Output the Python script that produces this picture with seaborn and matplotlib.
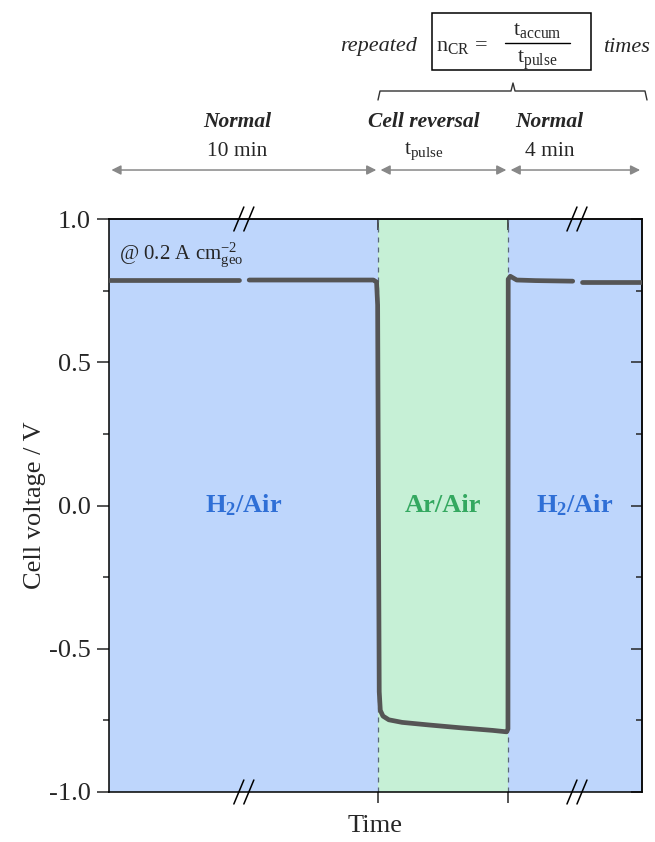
import pandas as pd
import matplotlib
matplotlib.use("Agg")
import matplotlib.pyplot as plt
import seaborn as sns
from matplotlib.lines import Line2D
from matplotlib.patches import Rectangle
from matplotlib.ticker import MultipleLocator, NullFormatter

# time axis in arbitrary units (0-100), voltage in V
t_normal1 = [0, 24.4]
v_normal1 = [0.787, 0.787]
t_cycle = [26.3, 49.6, 50.2, 50.4, 50.55, 50.7, 50.9, 51.4, 52.5, 55.0, 60.0, 66.0, 72.0, 74.6,
           74.85, 74.9, 75.3, 76.5, 80.0, 87.0]
v_cycle = [0.787, 0.787, 0.78, 0.70, 0.0, -0.65, -0.715, -0.735, -0.748, -0.757, -0.766, -0.776, -0.785, -0.79,
           -0.78, 0.79, 0.80, 0.787, 0.785, 0.783]
t_normal2 = [88.7, 100]
v_normal2 = [0.78, 0.78]

boundaries = [0, 50.5, 74.9, 100]
breaks = [25.3, 87.8]
gases = ["H$_\\mathregular{2}$/Air", "Ar/Air", "H$_\\mathregular{2}$/Air"]
phase_names = ["Normal", "Cell reversal", "Normal"]
phase_times = ["10 min", "t$_\\mathregular{pulse}$", "4 min"]
phase_label_x = [24.0, 59.1, 82.6]

df = pd.concat([
    pd.DataFrame({"t": t_normal1, "v": v_normal1, "seg": 0}),
    pd.DataFrame({"t": t_cycle, "v": v_cycle, "seg": 1}),
    pd.DataFrame({"t": t_normal2, "v": v_normal2, "seg": 2}),
])

sns.set_theme(style="ticks")
plt.rcParams["font.family"] = ["Liberation Serif", "DejaVu Serif"]
plt.rcParams["mathtext.fontset"] = "custom"
plt.rcParams["mathtext.rm"] = "Liberation Serif"
plt.rcParams["mathtext.it"] = "Liberation Serif:italic"
plt.rcParams["mathtext.bf"] = "Liberation Serif:bold"
plt.rcParams["axes.unicode_minus"] = False

W, H = 655, 842
fig = plt.figure(figsize=(W / 100, H / 100), dpi=100)
ax = fig.add_axes([109 / W, 1 - 792 / H, 533 / W, 573 / H])


def px(x, y):
    return x / W, 1 - y / H


blue, green = "#bed6fc", "#c6f0d6"
region_colors = [blue, green, blue]
text_colors = ["#2f6fd6", "#34a860", "#2f6fd6"]
for i in range(3):
    ax.axvspan(boundaries[i], boundaries[i + 1], color=region_colors[i], lw=0, zorder=0)
    ax.text((boundaries[i] + boundaries[i + 1]) / 2, 0.0, gases[i], color=text_colors[i],
            fontsize=19, fontweight="bold", ha="center", va="center")
for b in boundaries[1:3]:
    ax.axvline(b, color="#5a6878", lw=0.9, ls=(0, (4, 4)), zorder=1)

sns.lineplot(data=df, x="t", y="v", units="seg", estimator=None, sort=False,
             color="#555555", lw=3.4, ax=ax, zorder=3)

ax.set_xlim(0, 100)
ax.set_ylim(-1, 1)
ax.yaxis.set_major_locator(MultipleLocator(0.5))
ax.yaxis.set_minor_locator(MultipleLocator(0.25))
ax.set_xticks(boundaries[1:3])
ax.set_xticklabels([])
ax.tick_params(axis="y", which="major", direction="out", length=9, width=1.1, labelsize=19, pad=4)
ax.tick_params(axis="y", which="minor", direction="out", length=4.5, width=1.1)
ax.tick_params(axis="x", which="major", direction="out", length=8, width=1.1)
for s in ax.spines.values():
    s.set_linewidth(1.1)
    s.set_color("black")

sec_r = ax.secondary_yaxis("right")
sec_r.yaxis.set_major_locator(MultipleLocator(0.5))
sec_r.yaxis.set_minor_locator(MultipleLocator(0.25))
sec_r.yaxis.set_major_formatter(NullFormatter())
sec_r.tick_params(which="major", direction="in", length=8, width=1.1)
sec_r.tick_params(which="minor", direction="in", length=4.5, width=1.1)
sec_t = ax.secondary_xaxis("top")
sec_t.set_xticks(boundaries[1:3])
sec_t.set_xticklabels([])
sec_t.tick_params(direction="in", length=8, width=1.1)
for s in list(sec_r.spines.values()) + list(sec_t.spines.values()):
    s.set_linewidth(1.1)

ax.set_xlabel("Time", fontsize=19, labelpad=5)
ax.set_ylabel("Cell voltage / V", fontsize=19, labelpad=2)

ax.text(0.019, 0.937, "@ 0.2 A cm$^\\mathregular{-2}_\\mathregular{geo}$", transform=ax.transAxes,
        fontsize=15, ha="left", va="center")

# axis break marks
for b in breaks:
    xf = b / 100
    for yf in (0, 1):
        for dx in (-5, 5):
            cx = xf + dx / 533
            ax.plot([cx - 5 / 533, cx + 5 / 533], [yf - 12 / 573, yf + 12 / 573],
                    transform=ax.transAxes, color="black", lw=1.1, clip_on=False, zorder=5)

# phase arrows and labels above the plot
for i in range(3):
    ax.annotate("", xy=(boundaries[i + 1] - 0.35, 1.0855), xytext=(boundaries[i] + 0.45, 1.0855),
                xycoords=("data", "axes fraction"), textcoords=("data", "axes fraction"),
                arrowprops=dict(arrowstyle="<|-|>", color="#888888", lw=1.1,
                                mutation_scale=14, shrinkA=0, shrinkB=0),
                annotation_clip=False)
    ax.text(phase_label_x[i], 1.169, phase_names[i], transform=ax.get_xaxis_transform(),
            fontsize=15.5, fontweight="bold", fontstyle="italic", ha="center", va="center")
    ax.text(phase_label_x[i], 1.118, phase_times[i], transform=ax.get_xaxis_transform(),
            fontsize=15.5, ha="center", va="center")

# brace
bx = [378, 380, 511, 513, 515, 645, 647]
by = [100, 91, 91, 83, 91, 91, 100]
fig.add_artist(Line2D([px(x, 0)[0] for x in bx], [px(0, y)[1] for y in by], color="#333333", lw=1.0))

# box with formula
x0, y0 = px(432, 70)
x1, y1 = px(591, 13)
fig.add_artist(Rectangle((x0, y0), x1 - x0, y1 - y0, fill=False, ec="black", lw=1.1))
fig.text(*px(417, 47), "repeated", fontsize=16, fontstyle="italic", ha="right", va="center")
fig.text(*px(603, 47), "times", fontsize=16, fontstyle="italic", ha="left", va="center")
fig.text(*px(436, 47), "n$_\\mathregular{CR}$ =", fontsize=16, ha="left", va="center")
fig.text(*px(537, 31), "t$_\\mathregular{accum}$", fontsize=16, ha="center", va="center")
fig.text(*px(537, 60), "t$_\\mathregular{pulse}$", fontsize=16, ha="center", va="center")
fig.add_artist(Line2D([px(505, 0)[0], px(570, 0)[0]], [px(0, 43)[1]] * 2, color="black", lw=1.0))

fig.savefig("out.png", dpi=100)
